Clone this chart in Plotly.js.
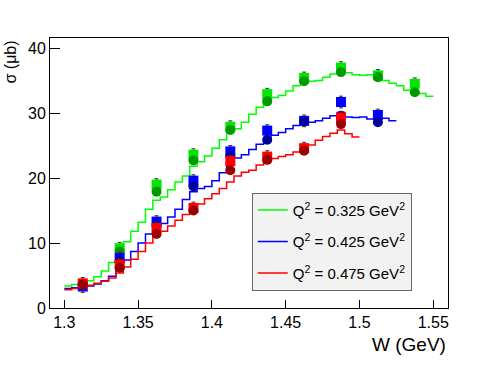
<!DOCTYPE html>
<html>
<head>
<meta charset="utf-8">
<script src="https://cdn.plot.ly/plotly-3.0.1.min.js"></script>
<style>
  html, body { margin: 0; padding: 0; background: #fff; }
  #chart { width: 498px; height: 386px; }
</style>
</head>
<body>
<div id="chart"></div>
<script>
// histogram bins, width 0.005 GeV, starting at 1.300
const binStart = 1.3;
const binWidth = 0.005;

const greenCurve = [
  3.4, 3.6, 3.9, 4.2, 4.8, 5.7, 7.0, 8.5, 10.2, 11.8,
  13.2, 15.2, 16.6, 17.1, 18.2, 19.4, 20.3, 21.8, 22.5, 23.4,
  24.6, 25.9, 27.2, 27.6, 28.6, 29.8, 30.9, 31.6, 32.4, 32.7,
  33.4, 34.2, 34.7, 34.9, 35.0, 35.5, 36.0, 36.3, 36.2, 35.9,
  35.8, 35.9, 35.7, 35.0, 34.6, 34.2, 33.5, 33.2, 33.0, 32.6,
];
const blueCurve = [
  3.0, 3.1, 3.3, 3.4, 3.7, 4.2, 4.9, 6.0, 7.4, 8.7,
  10.0, 11.4, 12.5, 13.0, 14.0, 15.2, 16.7, 17.9, 18.4, 18.7,
  19.6, 20.8, 22.2, 23.1, 23.6, 24.4, 25.2, 25.7, 26.6, 27.0,
  27.6, 28.1, 28.4, 28.6, 28.8, 29.2, 29.6, 30.1, 29.4, 29.3,
  29.4, 29.1, 29.2, 29.2, 28.8,
];
const redCurve = [
  2.8, 3.0, 3.2, 3.5, 3.8, 4.1, 4.6, 5.4, 6.3, 7.5,
  8.7, 10.0, 11.1, 11.8, 12.6, 13.5, 14.4, 15.3, 16.0, 16.8,
  17.6, 18.4, 19.4, 20.3, 20.9, 21.2, 22.0, 22.5, 23.0, 23.3,
  23.6, 24.0, 24.5, 25.1, 25.8, 26.4, 26.9, 27.4, 26.8, 26.3,
];

// measured points
const wPoints = [1.3125, 1.3375, 1.3625, 1.3875, 1.4125, 1.4375, 1.4625, 1.4875, 1.5125, 1.5375];
const greenSquares = [null, 9.2, 19.0, 23.6, 27.9, 32.9, 35.4, 37.0, 35.8, 34.5];
const greenCircles = [null, 8.7, 17.9, 22.7, 27.4, 31.8, 34.9, 36.3, 35.5, 33.2];
const blueSquares = [3.3, 7.7, 13.3, 19.6, 24.1, 27.3, 28.8, 31.7, 29.7, null];
const blueCircles = [3.5, 7.2, 12.6, 18.7, 23.4, 25.9, 28.7, 29.6, 28.6, null];
const redSquares = [3.8, 6.7, 12.3, 15.4, 22.6, 23.3, 24.6, 29.3, null, null];
const redCircles = [3.6, 6.2, 11.4, 15.0, 21.2, 22.8, 24.2, 28.3, null, null];
const squareErr = [0.9, 0.9, 0.9, 0.9, 0.9, 0.9, 0.9, 0.9, 0.9, 0.9];

const legendLabels = [
  "Q<sup>2</sup> = 0.325 GeV<sup>2</sup>",
  "Q<sup>2</sup> = 0.425 GeV<sup>2</sup>",
  "Q<sup>2</sup> = 0.475 GeV<sup>2</sup>",
];

function stepTrace(values, color, name, group) {
  const xs = values.map((v, i) => binStart + i * binWidth);
  xs.push(binStart + values.length * binWidth);
  const ys = values.concat([values[values.length - 1]]);
  return {
    x: xs,
    y: ys,
    type: "scatter",
    mode: "lines",
    line: { shape: "hv", color: color, width: 1.5 },
    name: name,
    legendgroup: group,
    hoverinfo: "skip",
  };
}

function markerTrace(values, color, symbol, withErr) {
  const t = {
    x: wPoints,
    y: values,
    type: "scatter",
    mode: "markers",
    marker: { symbol: symbol, size: 10, color: color },
    showlegend: false,
    hoverinfo: "skip",
  };
  if (withErr) {
    t.error_y = { type: "data", array: squareErr, color: "#333", thickness: 1, width: 2 };
  }
  return t;
}

const data = [
  stepTrace(greenCurve, "#00ff00", legendLabels[0], "g"),
  stepTrace(blueCurve, "#0000ff", legendLabels[1], "b"),
  stepTrace(redCurve, "#ff0000", legendLabels[2], "r"),
  markerTrace(greenSquares, "#00e600", "square", true),
  markerTrace(greenCircles, "#009a00", "circle", false),
  markerTrace(blueSquares, "#0000ff", "square", true),
  markerTrace(blueCircles, "#00009a", "circle", false),
  markerTrace(redSquares, "#ff0000", "square", true),
  markerTrace(redCircles, "#9a0000", "circle", false),
];

const axisFont = { family: "Liberation Sans, Arial, sans-serif", size: 16, color: "#000" };

const layout = {
  width: 498,
  height: 386,
  margin: { l: 50, r: 50, t: 38, b: 78 },
  paper_bgcolor: "#fff",
  plot_bgcolor: "#fff",
  font: axisFont,
  showlegend: true,
  xaxis: {
    range: [1.2903, 1.56],
    tick0: 1.3,
    dtick: 0.05,
    ticks: "inside",
    ticklen: 8,
    tickcolor: "#000",
    showline: true,
    mirror: true,
    linecolor: "#000",
    linewidth: 1,
    showgrid: false,
    zeroline: false,
    tickfont: axisFont,
  },
  yaxis: {
    range: [0, 41.55],
    dtick: 10,
    ticks: "inside",
    ticklen: 10,
    tickcolor: "#000",
    showline: true,
    mirror: true,
    linecolor: "#000",
    linewidth: 1,
    showgrid: false,
    zeroline: false,
    tickfont: axisFont,
  },
  legend: {
    x: 0.507,
    y: 0.427,
    xanchor: "left",
    yanchor: "top",
    bgcolor: "#f2f2f2",
    bordercolor: "#666",
    borderwidth: 1,
    font: { family: "Liberation Sans, Arial, sans-serif", size: 15, color: "#000" },
    traceorder: "grouped",
    tracegroupgap: 9,
  },
  annotations: [
    {
      text: "W (GeV)",
      xref: "paper",
      yref: "paper",
      x: 1,
      y: -0.137,
      xanchor: "right",
      yanchor: "middle",
      showarrow: false,
      font: { family: "Liberation Sans, Arial, sans-serif", size: 19, color: "#000" },
    },
    {
      text: "σ (μb)",
      xref: "paper",
      yref: "paper",
      x: -0.098,
      y: 1,
      xanchor: "center",
      yanchor: "top",
      textangle: -90,
      showarrow: false,
      font: { family: "Liberation Sans, Arial, sans-serif", size: 16, color: "#000" },
    },
  ],
};

Plotly.newPlot("chart", data, layout, { staticPlot: true });
</script>
</body>
</html>
